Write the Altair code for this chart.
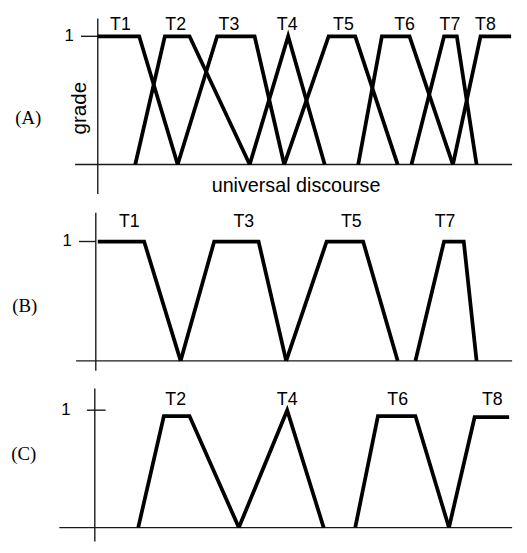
import altair as alt
import pandas as pd

# ---------------- data (universe units, membership grades) ----------------
# Panel (A): all eight terms
A_terms = ["T1", "T2", "T3", "T4", "T5", "T6", "T7", "T8"]
A_x = [[0, 10.5, 20.25], [9.5, 17, 23.25, 38.5], [20.25, 30.25, 39.75, 47.25],
       [38.5, 48.25, 57.5], [47.25, 58.5, 65.25, 76], [66, 72, 79, 90],
       [79.5, 87.75, 91, 96], [90, 97, 104.75]]
A_g = [[1, 1, 0], [0, 1, 1, 0], [0, 1, 1, 0], [0, 1, 0], [0, 1, 1, 0],
       [0, 1, 1, 0], [0, 1, 1, 0], [0, 1, 1]]
A_label_x = [5.75, 19.75, 33.25, 48, 62.25, 77.75, 89.25, 98.25]

# Panel (B): odd terms
B_terms = ["T1", "T3", "T5", "T7"]
B_x = [[0, 11.75, 21], [21, 29.5, 40.75, 47.75], [47.75, 58, 67.25, 76],
       [80.5, 87.75, 92.75, 96]]
B_g = [[1, 1, 0], [0, 1, 1, 0], [0, 1, 1, 0], [0, 1, 1, 0]]
B_label_x = [8, 37, 64.25, 88]

# Panel (C): even terms
C_terms = ["T2", "T4", "T6", "T8"]
C_x = [[10.25, 16.75, 23.25, 35.75], [35.75, 48, 57.25], [65.25, 71, 80.5, 89],
       [89, 95.5, 104.25]]
C_g = [[0, 0.95, 0.95, 0], [0, 1.0, 0], [0, 0.95, 0.95, 0], [0, 0.94, 0.94]]
C_label_x = [19.75, 48, 76, 100]

X_DOMAIN = [-22.75, 105]
W = 511


def panel(terms, xs, gs, label_x, label_g, ydom, height,
          axis_u, axis_top, axis_bot, base_left, tick_l, tick_r,
          one_x, one_g, letter, letter_x, letter_g, extra=None):
    xs_ = alt.Scale(domain=X_DOMAIN, nice=False, zero=False)
    ys_ = alt.Scale(domain=ydom, nice=False, zero=False)

    rows = []
    for t, xx, gg in zip(terms, xs, gs):
        for i, (a, b) in enumerate(zip(xx, gg)):
            rows.append({"term": t, "u": a, "g": b, "i": i})
    lines = alt.Chart(pd.DataFrame(rows)).mark_line(
        color="black", strokeWidth=3.8, strokeJoin="miter"
    ).encode(
        x=alt.X("u:Q", scale=xs_, axis=None),
        y=alt.Y("g:Q", scale=ys_, axis=None),
        detail="term:N",
        order="i:Q",
    )

    rules_df = pd.DataFrame([
        {"x": base_left, "x2": X_DOMAIN[1], "y": 0, "y2": 0},
        {"x": axis_u, "x2": axis_u, "y": axis_bot, "y2": axis_top},
        {"x": tick_l, "x2": tick_r, "y": 1, "y2": 1},
    ])
    rules = alt.Chart(rules_df).mark_rule(color="#1a1a1a", strokeWidth=1.4).encode(
        x=alt.X("x:Q", scale=xs_, axis=None),
        x2="x2:Q",
        y=alt.Y("y:Q", scale=ys_, axis=None),
        y2="y2:Q",
    )

    lab_df = pd.DataFrame({"t": terms, "u": label_x, "g": [label_g] * len(terms)})
    labs = alt.Chart(lab_df).mark_text(
        font="Liberation Sans", fontSize=18, baseline="middle", align="center", color="black"
    ).encode(
        x=alt.X("u:Q", scale=xs_, axis=None),
        y=alt.Y("g:Q", scale=ys_, axis=None),
        text="t:N",
    )

    one = alt.Chart(pd.DataFrame({"t": ["1"], "u": [one_x], "g": [one_g]})).mark_text(
        font="Liberation Sans", fontSize=17, baseline="middle", align="center", color="black"
    ).encode(
        x=alt.X("u:Q", scale=xs_, axis=None),
        y=alt.Y("g:Q", scale=ys_, axis=None),
        text="t:N",
    )

    let = alt.Chart(pd.DataFrame({"t": [letter], "u": [letter_x], "g": [letter_g]})).mark_text(
        font="Liberation Serif", fontSize=19, baseline="middle", align="center", color="black"
    ).encode(
        x=alt.X("u:Q", scale=xs_, axis=None),
        y=alt.Y("g:Q", scale=ys_, axis=None),
        text="t:N",
    )

    layers = [rules, lines, labs, one, let]
    if extra:
        for t, u, g, ang, fs in extra:
            layers.append(
                alt.Chart(pd.DataFrame({"t": [t], "u": [u], "g": [g]})).mark_text(
                    font="Liberation Sans", fontSize=fs, baseline="middle",
                    align="center", angle=ang, color="black"
                ).encode(
                    x=alt.X("u:Q", scale=xs_, axis=None),
                    y=alt.Y("g:Q", scale=ys_, axis=None),
                    text="t:N",
                )
            )
    return alt.layer(*layers).properties(width=W, height=height)


pA = panel(A_terms, A_x, A_g, A_label_x, 1.088, [-0.2846, 1.1923], 192,
           0, 1.138, -0.23, -5.75, -4.25, 0, -7.25, 1.0, "(A)", -17.6, 0.36,
           extra=[("grade", -4.4, 0.44, 270, 21),
                  ("universal discourse", 50.25, -0.17, 0, 20)])
pB = panel(B_terms, B_x, B_g, B_label_x, 1.165, [-0.1157, 1.339], 176,
           -0.5, 1.24, -0.083, -5.5, -4.75, -0.5, -7.75, 1.0, "(B)", -18.5, 0.46)
pC = panel(C_terms, C_x, C_g, C_label_x, 1.09, [-0.1176, 1.3025], 169,
           -0.75, 1.185, -0.1176, -9.75, -2.75, 2, -8.1, 1.0, "(C)", -18.75, 0.63)

chart = alt.vconcat(pA, pB, pC, spacing=0, padding=0).configure_view(stroke=None)

chart.save("out.html", embed_options={"renderer": "svg", "actions": False})
